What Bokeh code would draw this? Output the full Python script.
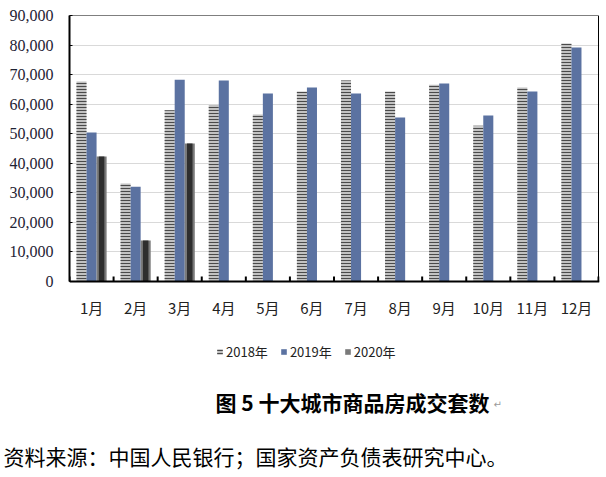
import math
from bokeh.plotting import figure
from bokeh.models import (FixedTicker, NumeralTickFormatter, Legend, LegendItem,
                          Label, Range1d, Span, BoxAnnotation, Title)
from bokeh.core.properties import value
from bokeh.embed import file_html
from bokeh.resources import INLINE

months = ["1月", "2月", "3月", "4月", "5月", "6月", "7月", "8月", "9月", "10月", "11月", "12月"]
v2018 = [67700, 33200, 57900, 59700, 56500, 64300, 68000, 64300, 66600, 52700, 65600, 80500]
v2019 = [50400, 32100, 68300, 68000, 63600, 65600, 63600, 55500, 67000, 56200, 64300, 79200]
v2020 = [42300, 13900, 46700]
series_names = ["2018年", "2019年", "2020年"]
y_ticks = [0, 10000, 20000, 30000, 40000, 50000, 60000, 70000, 80000, 90000]
title_text = "图 5 十大城市商品房成交套数"
source_text = "资料来源：中国人民银行；国家资产负债表研究中心。"
para_mark = "↵"

# layout constants (page pixels)
W, H = 606, 477
PLOT_L, PLOT_R, PLOT_T, PLOT_B = 69, 598, 15, 281   # chart box
FRAME_B = 439                                        # frame extends below chart for captions
n = len(months)
ymax = y_ticks[-1]
units_per_px = ymax / (PLOT_B - PLOT_T)
cat_px = (PLOT_R - PLOT_L) / n
y_lo = -(FRAME_B - PLOT_B) * units_per_px
x_hi = n - 0.5 + 1.0 / cat_px

centers = list(range(n))
bounds = [i - 0.5 for i in range(n + 1)]
bw = 0.228

p = figure(width=W, height=H, x_range=Range1d(-0.5, x_hi),
           y_range=Range1d(y_lo, ymax), output_backend="svg",
           toolbar_location=None, x_axis_location=None,
           min_border_left=PLOT_L, min_border_right=W - PLOT_R - 1,
           min_border_top=PLOT_T, min_border_bottom=H - FRAME_B)
p.background_fill_color = "white"
p.border_fill_color = "white"
p.outline_line_color = None

# grid
p.xgrid.grid_line_color = None
p.xgrid.visible = False
p.ygrid.ticker = FixedTicker(ticks=y_ticks)
p.ygrid.grid_line_color = "#d9d9d9"
p.ygrid.grid_line_width = 1

# bars
r18 = p.vbar(x=[c - bw for c in centers], top=v2018, width=bw,
             fill_color="#c2c2c2", line_color=None,
             hatch_pattern="horizontal_line", hatch_color="#4a4a4a",
             hatch_scale=3, hatch_weight=1)
r19 = p.vbar(x=centers, top=v2019, width=bw, fill_color="#5b72a1", line_color=None)
x20 = [c + bw for c in centers[:len(v2020)]]
r20 = p.vbar(x=x20, top=v2020, width=bw, fill_color="#7a7a7a", line_color=None)
p.vbar(x=x20, top=v2020, width=bw * 0.55, fill_color="#2e2e2e", line_color=None)

# chart border, base line and category ticks
p.add_layout(BoxAnnotation(left=-0.5, right=n - 0.5, bottom=0, top=ymax,
                           fill_alpha=0, line_color="black", line_width=1,
                           line_alpha=1))
p.add_layout(Span(location=0, dimension="width", line_color="black", line_width=2))
p.ray(x=bounds, y=[0] * len(bounds), length=5, length_units="screen",
      angle=math.pi / 2, line_color="black", line_width=2)

# category labels
label_y = -26 * units_per_px
p.text(x=centers, y=[label_y] * n, text=months, text_align="center",
       text_baseline="middle", text_font=value("Noto Sans CJK SC"),
       text_font_size=value("15px"), text_color="#222222")

# y axis
p.yaxis.ticker = FixedTicker(ticks=y_ticks)
p.yaxis.formatter = NumeralTickFormatter(format="0,0")
p.yaxis.bounds = (0, ymax)
p.yaxis.axis_line_width = 2
p.yaxis.axis_line_color = "black"
p.yaxis.major_tick_in = 3
p.yaxis.major_tick_out = 0
p.yaxis.minor_tick_line_color = None
p.yaxis.major_label_standoff = 16
p.yaxis.major_label_text_font = "Liberation Serif"
p.yaxis.major_label_text_font_size = "16px"
p.yaxis.major_label_text_color = "#1e2233"

# legend (inside the extended frame)
legend = Legend(items=[LegendItem(label=series_names[0], renderers=[r18]),
                       LegendItem(label=series_names[1], renderers=[r19]),
                       LegendItem(label=series_names[2], renderers=[r20])],
                orientation="horizontal", location=(216 - PLOT_L, FRAME_B - 360.5),
                border_line_color=None, background_fill_alpha=0,
                padding=0, margin=0, spacing=12, label_standoff=3,
                glyph_width=7, glyph_height=7, label_height=15,
                label_text_font="Noto Sans CJK SC", label_text_font_size="13px",
                label_text_color="#222222")
p.add_layout(legend)

# figure title
p.add_layout(Label(x=352 - PLOT_L, y=FRAME_B - 401, x_units="screen", y_units="screen",
                   text=title_text, text_align="center", text_baseline="middle",
                   text_font="Noto Sans CJK SC", text_font_style="bold",
                   text_font_size="21px", text_color="black"))
p.add_layout(Label(x=493 - PLOT_L, y=FRAME_B - 404, x_units="screen", y_units="screen",
                   text=para_mark, text_align="left", text_baseline="middle",
                   text_font="DejaVu Sans", text_font_size="10px",
                   text_color="#9a9a9a"))

# source line (below panel)
p.add_layout(Title(text=source_text, align="left", offset=3 - PLOT_L,
                   vertical_align="middle", standoff=0,
                   text_font="Noto Sans CJK SC", text_font_style="normal",
                   text_font_size="21px", text_color="black"), "below")

open("out.html", "w").write(file_html(p, INLINE))
